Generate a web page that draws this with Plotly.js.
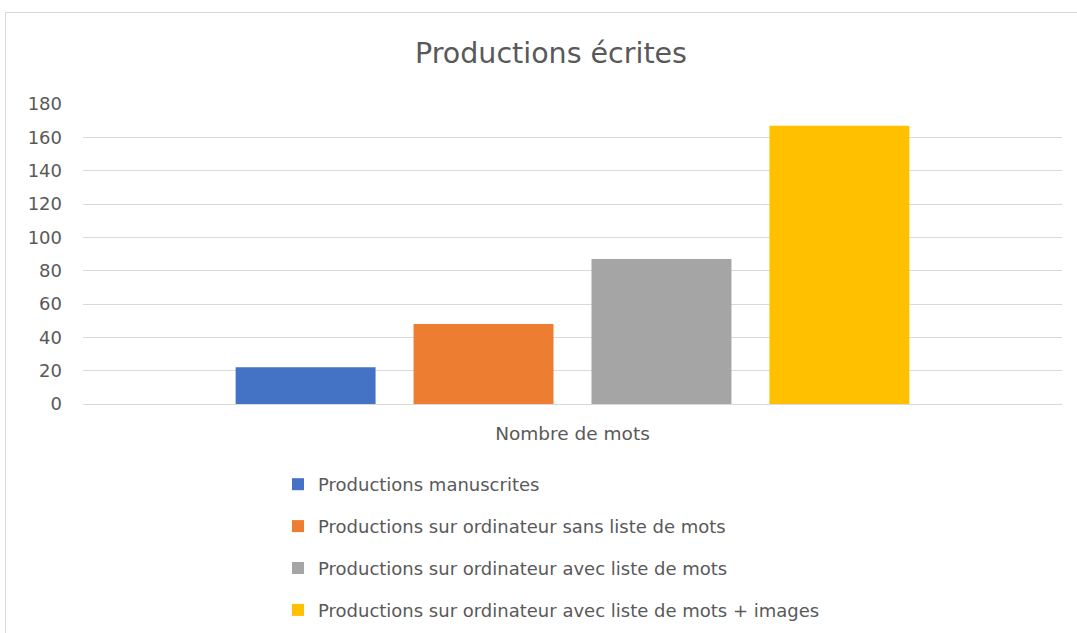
<!DOCTYPE html>
<html>
<head>
<meta charset="utf-8">
<script src="https://cdn.plot.ly/plotly-3.0.1.min.js"></script>
<style>
  html, body { margin: 0; padding: 0; background: #ffffff; }
  #wrap { position: relative; width: 1077px; height: 633px; overflow: hidden; }
  #chart { width: 1077px; height: 633px; }
  #frame { position: absolute; left: 5px; top: 12px; width: 1100px; height: 700px;
           border: 1.5px solid #d9d9d9; pointer-events: none; box-sizing: border-box; }
</style>
</head>
<body>
<div id="wrap">
  <div id="chart"></div>
  <div id="frame"></div>
</div>
<script>
const categories = ["Nombre de mots"];
const seriesNames = [
  "Productions manuscrites",
  "Productions sur ordinateur sans liste de mots",
  "Productions sur ordinateur avec liste de mots",
  "Productions sur ordinateur avec liste de mots + images"
];
const seriesValues = [22, 48, 87, 167];
const seriesColors = ["#4472c4", "#ed7d31", "#a5a5a5", "#ffc000"];
const yTicks = [0, 20, 40, 60, 80, 100, 120, 140, 160, 180];

const font = "DejaVu Sans, Open Sans, sans-serif";
const textColor = "#595959";

const traces = seriesNames.map((name, i) => ({
  type: "bar",
  name: name,
  x: categories,
  y: [seriesValues[i]],
  marker: { color: seriesColors[i], line: { width: 0 } },
  legendgroup: "g" + i,
  hoverinfo: "name+y"
}));

const layout = {
  width: 1077,
  height: 633,
  paper_bgcolor: "#ffffff",
  plot_bgcolor: "#ffffff",
  margin: { l: 83, r: 15, t: 104, b: 229, autoexpand: false },
  barmode: "group",
  bargap: 0.273,
  bargroupgap: 0.2135,
  title: {
    text: "Productions écrites",
    font: { family: font, size: 28.5, color: textColor },
    x: 0.5116, xref: "container", xanchor: "center",
    y: 1 - 53 / 633, yref: "container", yanchor: "middle"
  },
  xaxis: {
    type: "category",
    showgrid: false,
    showline: false,
    ticks: "",
    ticklabelstandoff: 16,
    tickfont: { family: font, size: 18.5, color: textColor },
    zeroline: false
  },
  yaxis: {
    range: [0, 180],
    tickvals: yTicks,
    ticktext: yTicks.map(String),
    showgrid: true,
    gridcolor: "#d9d9d9",
    gridwidth: 1,
    zeroline: true,
    zerolinecolor: "#d9d9d9",
    zerolinewidth: 1,
    showline: false,
    ticks: "",
    ticklabelstandoff: 20,
    tickfont: { family: font, size: 18, color: textColor },
    fixedrange: true
  },
  showlegend: true,
  legend: {
    orientation: "v",
    x: (278 - 83) / 979,
    xanchor: "left",
    y: (404 - 466) / 300,
    yanchor: "top",
    traceorder: "grouped",
    tracegroupgap: 15.5,
    font: { family: font, size: 18, color: textColor },
    itemwidth: 30
  }
};

Plotly.newPlot("chart", traces, layout, { displayModeBar: false, staticPlot: true });
</script>
</body>
</html>
